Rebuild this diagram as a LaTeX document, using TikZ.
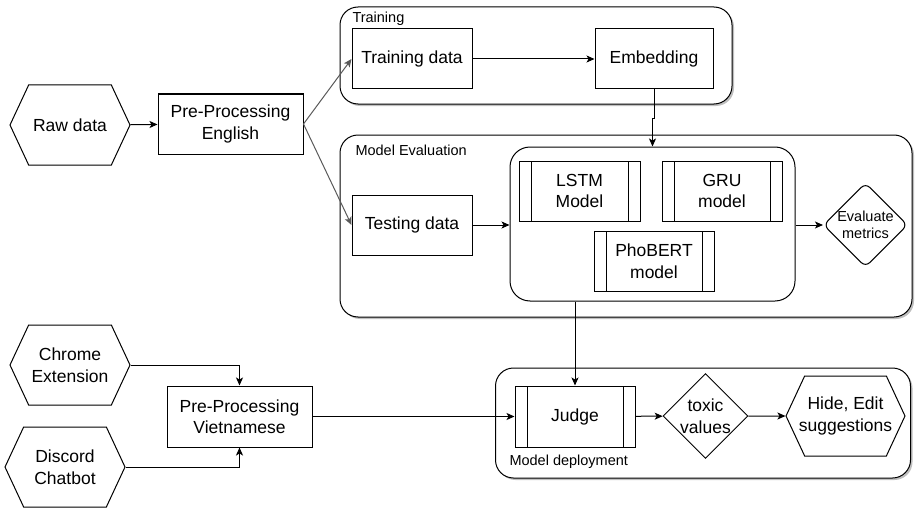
\documentclass[tikz,border=0pt]{standalone}
\usepackage{fontspec}
\setmainfont{Liberation Sans}
\usetikzlibrary{shapes.geometric,shapes.symbols,arrows.meta,shadows}

\tikzset{
  box/.style={draw, fill=white, minimum width=120pt, minimum height=60pt},
  procbox/.style={box, path picture={
      \draw ([xshift=12pt]path picture bounding box.north west) -- ([xshift=12pt]path picture bounding box.south west)
            ([xshift=-12pt]path picture bounding box.north east) -- ([xshift=-12pt]path picture bounding box.south east);}},
  hexa/.style={signal, signal to=west and east, signal pointer angle=130, draw, fill=white,
      minimum width=120pt, minimum height=80pt},
  decide/.style={diamond, draw, fill=white, minimum width=80pt, minimum height=80pt},
  group/.style={draw, fill=white, rounded corners=18pt,
      drop shadow={shadow xshift=2pt, shadow yshift=-2pt, fill=black, opacity=0.25}},
  grouplabel/.style={anchor=west, font=\fontsize{14.5}{17}\selectfont},
}

\begin{document}
\begin{tikzpicture}[x=1pt, y=-1pt, line width=1pt,
    >={Stealth[length=8pt, width=7pt, inset=2pt]},
    every node/.append style={align=center, inner sep=0pt, font=\fontsize{17.5}{21.5}\selectfont}]
    \useasboundingbox (0,0) rectangle (924,519);

    % groups
    \node[group, minimum width=392pt, minimum height=97pt] (train) at (536,55.5) {};
    \node[group, minimum width=572pt, minimum height=182pt] (eval) at (626,226) {};
    \node[group, minimum width=415pt, minimum height=110pt] (deploy) at (703,423) {};
    \node[grouplabel] (trainlbl) at (352,19) {Training};
    \node[grouplabel] (evallbl) at (355,150) {Model Evaluation};
    \node[grouplabel] (deploylbl) at (509,462) {Model deployment};

    % English side
    \node[hexa] (raw) at (70,125) {Raw data};
    \node[box, minimum width=145pt] (ppen) at (230.5,124) {Pre-Processing\\English};
    \node[box] (tdata) at (412,59) {Training data};
    \node[box, minimum width=118pt] (emb) at (654,59) {Embedding};
    \node[box] (test) at (412,225) {Testing data};

    % models
    \node[draw, fill=white, rounded corners=20pt, minimum width=285pt, minimum height=154pt] (models) at (652.5,224) {};
    \node[procbox, minimum width=121pt] (lstm) at (579.5,191) {LSTM\\Model};
    \node[procbox] (gru) at (722,191) {GRU\\model};
    \node[procbox] (phobert) at (654,261) {PhoBERT\\model};
    \node[decide, rounded corners=6pt, minimum width=75pt, minimum height=74pt,
          font=\fontsize{14.5}{17}\selectfont] (metric) at (865.5,225) {Evaluate\\metrics};

    % Vietnamese side
    \node[hexa] (chrome) at (70,365) {Chrome\\Extension};
    \node[hexa] (discord) at (65,467) {Discord\\Chatbot};
    \node[box, minimum width=145pt, minimum height=61pt] (ppvi) at (239.5,416.5) {Pre-Processing\\Vietnamese};
    \node[procbox, minimum height=61pt] (judge) at (575,416.5) {Judge};
    \node[decide] (toxic) at (705.5,416) {toxic\\values};
    \node[hexa, minimum width=119pt, inner xsep=-14pt] (hide) at (845.5,416) {Hide, Edit\\suggestions};

    % connectors
    \draw[->] (raw) -- (ppen);
    \draw[->, black!65] (ppen.east) -- (tdata.west);
    \draw[->, black!65] (ppen.east) -- (test.west);
    \draw[->] (tdata) -- (emb);
    \draw[->] (emb.south) -- ++(0,29) -| (models.north);
    \draw[->] (test.east) -- (test.east -| models.west);
    \draw[->] (models.east |- metric.west) -- (metric.west);
    \draw[->] (chrome.east) -| (ppvi.north);
    \draw[->] (discord.east) -| (ppvi.south);
    \draw[->] (ppvi) -- (judge);
    \draw[->] (judge.north |- models.south) -- (judge.north);
    \draw[->] (judge) -- (toxic);
    \draw[->] (toxic) -- (hide);
\end{tikzpicture}
\end{document}
